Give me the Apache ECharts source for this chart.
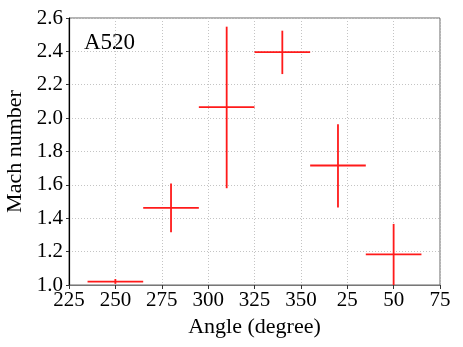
<!DOCTYPE html>
<html lang="en">

<head>
    <meta charset="UTF-8">
    <title></title>
    <style>
        html,
        body {
            margin: 0;
            padding: 0;
            background: #fff;
        }
    </style>
</head>

<body>
    <div id="main" style="width: 463px;height:347px;"></div>
    <script src="https://cdn.jsdelivr.net/npm/echarts@6/dist/echarts.min.js"></script>
    <script type="text/javascript">
        // angle (degree, unwrapped past 360) and Mach number with error ranges
        var angle = [250, 280, 310, 340, 370, 400];
        var angleErr = [15, 15, 15, 15, 15, 15];
        var mach = [1.02, 1.462, 2.066, 2.396, 1.716, 1.184];
        var machLow = [1.007, 1.316, 1.58, 2.264, 1.464, 0.99];
        var machHigh = [1.036, 1.608, 2.548, 2.524, 1.964, 1.366];
        var xTickLabels = {225: '225', 250: '250', 275: '275', 300: '300', 325: '325', 350: '350', 375: '25', 400: '50', 425: '75'};

        var data = [];
        for (var i = 0; i < angle.length; i++) {
            data.push([angle[i], mach[i], angleErr[i], machLow[i], machHigh[i]]);
        }

        var myChart = echarts.init(document.getElementById('main'));
        var font = "'Liberation Serif', 'Times New Roman', 'DejaVu Serif', serif";
        var lineStyle = { stroke: '#ff1a1a', lineWidth: 1.8 };

        var option = {
            animation: false,
            grid: {
                left: 69, right: 23, top: 18, bottom: 62,
                outerBoundsMode: 'none',
                containLabel: false,
                show: true, borderColor: '#666', borderWidth: 1
            },
            xAxis: {
                type: 'value',
                min: 225, max: 425, interval: 25,
                name: 'Angle (degree)',
                nameLocation: 'middle',
                nameGap: 30,
                nameTextStyle: { fontFamily: font, fontSize: 22, color: '#000' },
                axisLine: { lineStyle: { color: '#777', width: 1.2 } },
                axisTick: { show: true, length: 4, lineStyle: { color: '#333' } },
                axisLabel: {
                    fontFamily: font, fontSize: 21, color: '#000', margin: 5,
                    formatter: function (v) { return xTickLabels[v]; }
                },
                splitLine: { show: true, lineStyle: { color: '#c4c4c4', type: [1, 2] } }
            },
            yAxis: {
                type: 'value',
                min: 1.0, max: 2.6, interval: 0.2,
                name: 'Mach number',
                nameLocation: 'middle',
                nameGap: 41,
                nameTextStyle: { fontFamily: font, fontSize: 22, color: '#000' },
                axisLine: { show: true, lineStyle: { color: '#000', width: 1.2 } },
                axisTick: { show: true, length: 3, lineStyle: { color: '#333' } },
                axisLabel: {
                    fontFamily: font, fontSize: 21, color: '#000', margin: 6,
                    formatter: function (v) { return v.toFixed(1); }
                },
                splitLine: { show: true, lineStyle: { color: '#c4c4c4', type: [1, 2] } }
            },
            graphic: [{
                type: 'text',
                left: 84, top: 31,
                style: { text: 'A520', fontFamily: font, fontSize: 23, fill: '#000' }
            }],
            series: [{
                type: 'custom',
                clip: true,
                data: data,
                renderItem: function (params, api) {
                    var x = api.value(0), y = api.value(1), xe = api.value(2);
                    var left = api.coord([x - xe, y]);
                    var right = api.coord([x + xe, y]);
                    var top = api.coord([x, api.value(4)]);
                    var bottom = api.coord([x, api.value(3)]);
                    return {
                        type: 'group',
                        children: [{
                            type: 'line',
                            shape: { x1: left[0], y1: left[1], x2: right[0], y2: right[1] },
                            style: lineStyle
                        }, {
                            type: 'line',
                            shape: { x1: top[0], y1: top[1], x2: bottom[0], y2: bottom[1] },
                            style: lineStyle
                        }]
                    };
                }
            }]
        };
        myChart.setOption(option);
    </script>
</body>

</html>
